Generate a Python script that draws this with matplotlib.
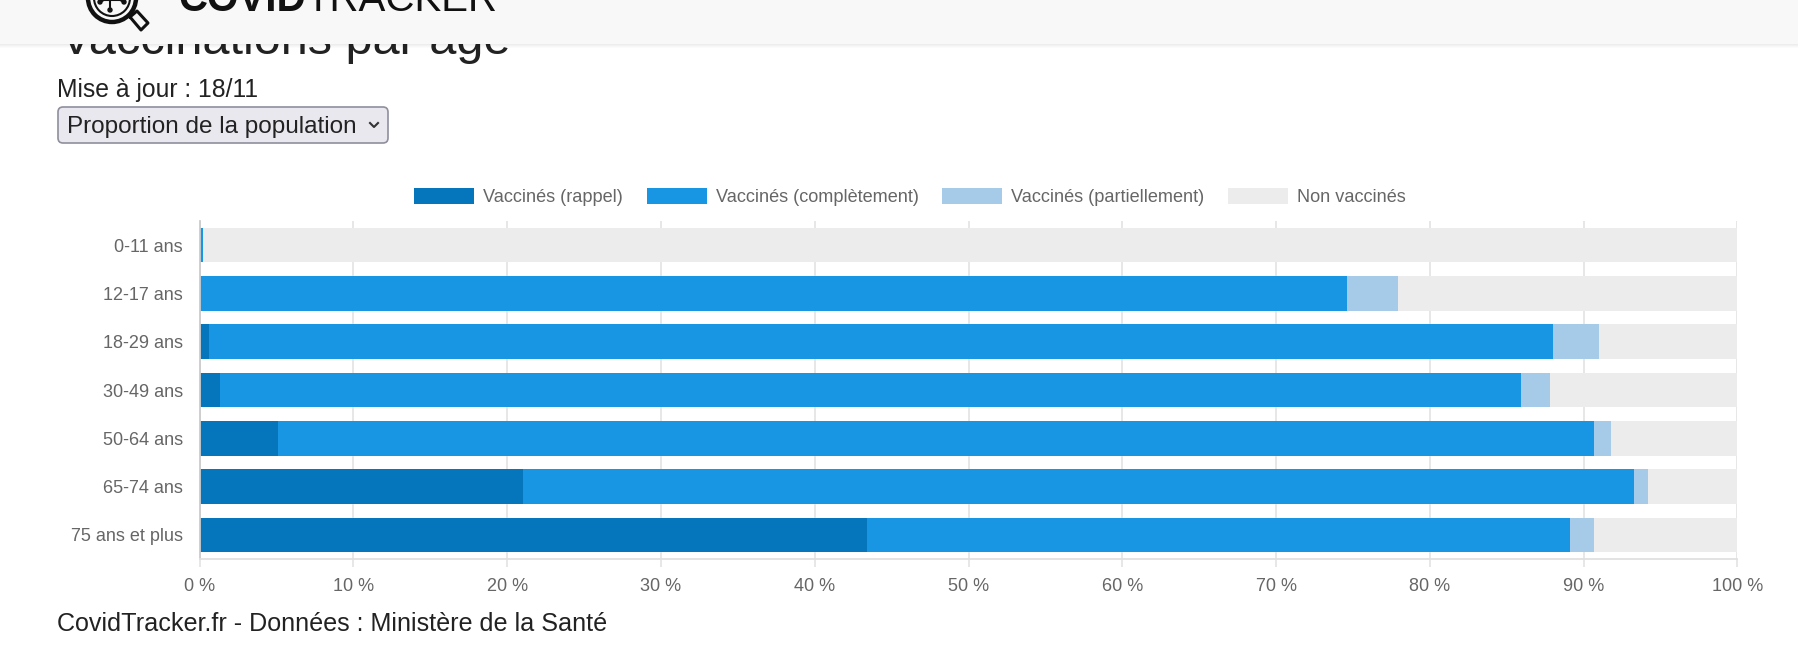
import matplotlib
matplotlib.use("Agg")
import matplotlib.pyplot as plt
from matplotlib.patches import Rectangle, FancyBboxPatch, Circle
import numpy as np

plt.rcParams['font.family'] = ['Liberation Sans', 'DejaVu Sans']

# data (percent of each age group)
ages = ["0-11 ans", "12-17 ans", "18-29 ans", "30-49 ans", "50-64 ans", "65-74 ans", "75 ans et plus"]
rappel = [0.0, 0.0, 0.6, 1.3, 5.1, 21.0, 43.4]
complet = [0.2, 74.6, 87.4, 84.65, 85.6, 72.3, 45.7]
partiel = [0.0, 3.3, 3.0, 1.85, 1.1, 0.9, 1.6]
non_vaccines = [99.8, 22.1, 9.0, 12.2, 8.2, 5.8, 9.3]

series_names = ["Vaccinés (rappel)", "Vaccinés (complètement)", "Vaccinés (partiellement)", "Non vaccinés"]
series_colors = ["#0576bc", "#1896e4", "#a5cbe8", "#ececec"]
ticks = list(range(0, 101, 10))

W, H = 1798, 652
fig = plt.figure(figsize=(W / 100, H / 100), dpi=100)
fig.patch.set_facecolor("white")

# page overlay in pixel coordinates (header, texts, dropdown)
page = fig.add_axes([0, 0, 1, 1], zorder=0)
page.set_xlim(0, W)
page.set_ylim(H, 0)
page.set_axis_off()

# title, partly hidden under the header bar (cut off like in the screenshot)
page.text(60, 54, "Vaccinations par âge", fontsize=35, color="#222222",
          ha="left", va="baseline", zorder=1)

# header bar with shadow
for i, a in enumerate([0.10, 0.07, 0.05, 0.03, 0.015]):
    page.add_patch(Rectangle((0, 43 + i), W, 1.2, facecolor="black", alpha=a, lw=0, zorder=2))
page.add_patch(Rectangle((0, 0), W, 43.5, facecolor="#f8f8f8", lw=0, zorder=3))

# logo
page.add_patch(Circle((112, -2), 24, fill=False, lw=3.2, ec="#111111", zorder=4))
page.add_patch(Circle((112, -2), 18, fill=False, lw=1.5, ec="#111111", zorder=4))
page.plot([110, 110], [0, 10], color="#111111", lw=1.5, zorder=4)
page.plot([100, 104, 120, 124], [2, 0, 0, 2], color="#111111", lw=1.5, zorder=4)
for cx, cy in [(110, 10), (100, 2), (124, 2)]:
    page.add_patch(Circle((cx, cy), 2, color="#111111", zorder=4))
page.plot([130, 141, 148, 137, 130], [17, 30, 23, 11, 17], color="#111111", lw=2.2, zorder=4)
page.text(178, 11, "COVID", fontsize=29, fontweight="bold", color="#111111",
          ha="left", va="baseline", zorder=4)
page.text(305, 11, "TRACKER", fontsize=29, color="#111111",
          ha="left", va="baseline", zorder=4)

# update date and dropdown
page.text(57, 97, "Mise à jour : 18/11", fontsize=17.8, color="#222222", ha="left", va="baseline")
page.add_patch(FancyBboxPatch((58, 107), 330, 36, boxstyle="round,pad=0,rounding_size=5",
                              facecolor="#e9e8ee", edgecolor="#8f8f9d", lw=1.2))
page.text(67, 133, "Proportion de la population", fontsize=17.5, color="#222222",
          ha="left", va="baseline")
page.plot([370, 374, 378], [123, 127, 123], color="#333333", lw=1.5)

# footer
page.text(57, 631, "CovidTracker.fr - Données : Ministère de la Santé", fontsize=18.1,
          color="#222222", ha="left", va="baseline")

# chart
ax = fig.add_axes([199.6 / W, 1 - 559 / H, (1737.4 - 199.6) / W, (559 - 221) / H], zorder=2)
ax.set_facecolor("none")
y = np.arange(len(ages))
segments = [rappel, complet, partiel, non_vaccines]
left = np.zeros(len(ages))
bars = []
for vals, name, col in zip(segments, series_names, series_colors):
    b = ax.barh(y, vals, left=left, height=0.717, color=col, label=name, lw=0)
    bars.append(b)
    left = left + np.array(vals)

ax.set_xlim(0, 100)
ax.set_ylim(len(ages) - 0.5, -0.5)
ax.set_xticks(ticks)
ax.set_xticklabels([f"{t} %" for t in ticks])
ax.set_yticks(y)
ax.set_yticklabels(ages)
ax.set_axisbelow(True)
ax.grid(axis="x", color="#e5e5e5", lw=1.3)
ax.tick_params(axis="x", length=6, width=1.3, color="#e5e5e5", labelsize=13,
               labelcolor="#666666", pad=8)
ax.tick_params(axis="y", length=0, labelsize=13, labelcolor="#666666", pad=12)
for s in ["top", "right"]:
    ax.spines[s].set_visible(False)
ax.spines["left"].set_color("#cccccc")
ax.spines["left"].set_linewidth(1.3)
ax.spines["bottom"].set_color("#e0e0e0")
ax.spines["bottom"].set_linewidth(1.3)

fig.legend(handles=bars, labels=series_names, loc="center", ncol=4,
           bbox_to_anchor=(910 / W, 1 - 197 / H), frameon=False, fontsize=13.1,
           handlelength=3.3, handleheight=0.95, handletextpad=0.5, columnspacing=1.3,
           labelcolor="#666666")

fig.savefig("out.png", dpi=100)
